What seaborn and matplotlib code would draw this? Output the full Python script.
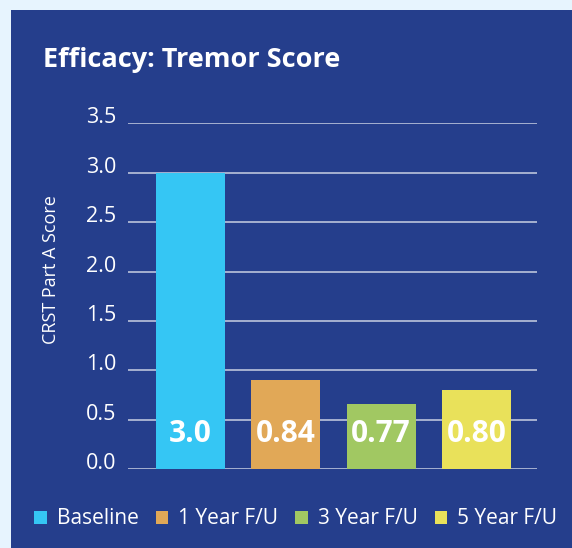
import matplotlib
matplotlib.use("Agg")
import matplotlib.pyplot as plt
from matplotlib.patches import Patch, Rectangle
import seaborn as sns

# Data
categories = ['Baseline', '1 Year F/U', '3 Year F/U', '5 Year F/U']
bar_heights = [3.0, 0.90, 0.66, 0.80]
bar_labels = ['3.0', '0.84', '0.77', '0.80']
yticks = [0.0, 0.5, 1.0, 1.5, 2.0, 2.5, 3.0, 3.5]

colors = ['#35c6f4', '#e1a857', '#a1c862', '#e9e15a']
panel = '#253e8c'
border = '#e7f4fe'

sns.set_theme(style='white')
plt.rcParams['font.family'] = ['Open Sans', 'DejaVu Sans']

fig = plt.figure(figsize=(5.72, 5.48), dpi=100)
fig.patch.set_facecolor(border)
# dark panel behind everything
fig.patches.append(Rectangle((11 / 572, 0), 1, 1 - 10 / 548, transform=fig.transFigure,
                             facecolor=panel, edgecolor='none', zorder=-5))

ax = fig.add_axes([128 / 572, 1 - 469.3 / 548, (537 - 128) / 572, (469.3 - 123.3) / 548])
ax.set_zorder(2)
ax.set_facecolor('none')

for y in yticks:
    ax.axhline(y, color='white', alpha=0.75, lw=1.1, zorder=0)

sns.barplot(x=categories, y=bar_heights, hue=categories, palette=colors,
            width=0.725, saturation=1, legend=False, ax=ax, zorder=2, linewidth=0)

for i, lab in enumerate(bar_labels):
    ax.text(i, 0.28, lab, ha='center', va='baseline', color='white',
            fontsize=21.5, fontweight='bold', zorder=3)

ax.set_ylim(0, 3.5)
ax.set_xlim(-0.656, 3.635)
ax.set_yticks(yticks)
ax.set_yticklabels([f'{v:.1f}' for v in yticks], color='white', fontsize=15.5,
                   va='baseline')
ax.tick_params(axis='y', length=0, pad=8.5)
ax.set_xticks([])
ax.set_xlabel('')
ax.set_ylabel('')
sns.despine(ax=ax, left=True, bottom=True)

fig.text(51 / 572, 1 - 269.5 / 548, 'CRST Part A Score', rotation=90,
         ha='center', va='center', color='white', fontsize=13)
fig.text(43 / 572, 1 - 66.7 / 548, 'Efficacy: Tremor Score', ha='left',
         va='baseline', color='white', fontsize=19.5, fontweight='bold')

handles = [Patch(facecolor=c, edgecolor='none') for c in colors]
leg = fig.legend(handles, categories, loc='center', bbox_to_anchor=(0.517, 1 - 519 / 548),
                 ncol=4, frameon=False, fontsize=15, handlelength=0.6, handleheight=0.6,
                 handletextpad=0.48, columnspacing=0.82, labelcolor='white')

fig.savefig('out.png', dpi=100, facecolor=fig.get_facecolor())
